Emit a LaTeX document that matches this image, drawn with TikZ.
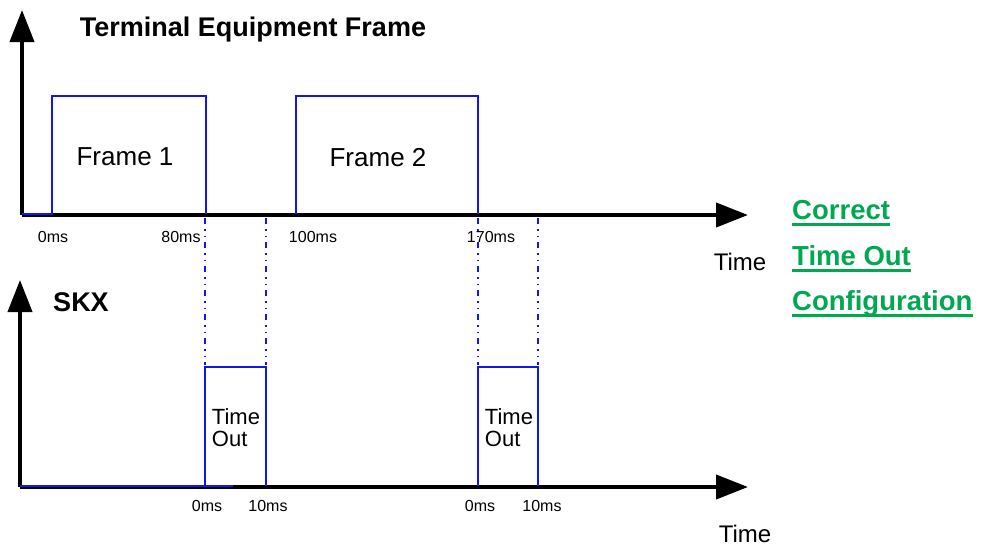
\documentclass[tikz,border=0pt]{standalone}
\usepackage{fontspec}
\setmainfont{Liberation Sans}
\usepackage{xcolor}
\usetikzlibrary{positioning,arrows.meta}

\definecolor{sigblue}{RGB}{20,20,240}
\definecolor{okgreen}{RGB}{0,168,80}

\begin{document}
\begin{tikzpicture}[
    x=1pt, y=-1pt,
    axis/.style={line width=4pt, -{Triangle[length=32pt, width=24pt]}},
    signal/.style={draw=sigblue, line width=1.6pt},
    guide/.style={draw=sigblue, line width=1.6pt, dash pattern=on 6pt off 5pt on 1.5pt off 5pt on 1.5pt off 5pt},
    title/.style={font=\fontsize{27}{30}\selectfont\bfseries, inner sep=0pt},
    label/.style={font=\fontsize{26}{28}\selectfont, inner sep=0pt},
    tick/.style={font=\fontsize{16}{18}\selectfont, inner sep=0pt},
    boxtext/.style={font=\fontsize{22}{25}\selectfont, inner sep=0pt, align=left},
    note/.style={font=\fontsize{27.5}{30}\selectfont\bfseries, text=okgreen, inner sep=0pt, anchor=base west},
    noteline/.style={draw=okgreen, line width=3pt},
]
\useasboundingbox (0,0) rectangle (983,546);

% axes
\draw[axis] (22,215) -- (22,10);
\draw[axis] (22,215) -- (748,215);
\draw[axis] (20,487) -- (20,280);
\draw[axis] (20,487) -- (748,487);

% terminal equipment frames
\draw[signal] (22,214) -- (52,214) -- (52,96) -- (206,96) -- (206,214);
\draw[signal] (296,214) -- (296,96) -- (478,96) -- (478,214);

% time out windows
\draw[signal] (20,486) -- (233,486);
\draw[signal] (205,486) -- (205,367) -- (266,367) -- (266,486);
\draw[signal] (478,486) -- (478,367) -- (538,367) -- (538,486);

% guides
\foreach \gx in {205,266,478,538}
  \draw[guide] (\gx,218) -- (\gx,365);

% texts
\node[title] (tef) at (253,30) {Terminal Equipment Frame};
\node[title] (skx) at (81,302) {SKX};
\node[label] (f1) at (125,157) {Frame 1};
\node[label] (f2) at (378,158) {Frame 2};
\node[boxtext] (to1) at (236,428) {Time\\[-3pt]Out};
\node[boxtext] (to2) at (509,428) {Time\\[-3pt]Out};

\node[tick] (t0) at (53,237) {0ms};
\node[tick] (t80) at (181,237) {80ms};
\node[tick] (t100) at (313,237) {100ms};
\node[tick] (t170) at (491,237) {170ms};
\node[tick] (b0a) at (207,506) {0ms};
\node[tick] (b10a) at (268,506) {10ms};
\node[tick] (b0b) at (480,506) {0ms};
\node[tick] (b10b) at (542,506) {10ms};

\node[label, font=\fontsize{24}{26}\selectfont] (time1) at (740,262) {Time};
\node[label, font=\fontsize{24}{26}\selectfont] (time2) at (745,534) {Time};

% green note
\node[note] (cfg1) at (792,219) {Correct};
\node[note] (cfg2) at (792,265) {Time Out};
\node[note] (cfg3) at (792,310) {Configuration};
\foreach \n in {cfg1,cfg2,cfg3}
  \draw[noteline] ([yshift=-5pt]\n.base west) -- ([yshift=-5pt]\n.base east);
\end{tikzpicture}
\end{document}
